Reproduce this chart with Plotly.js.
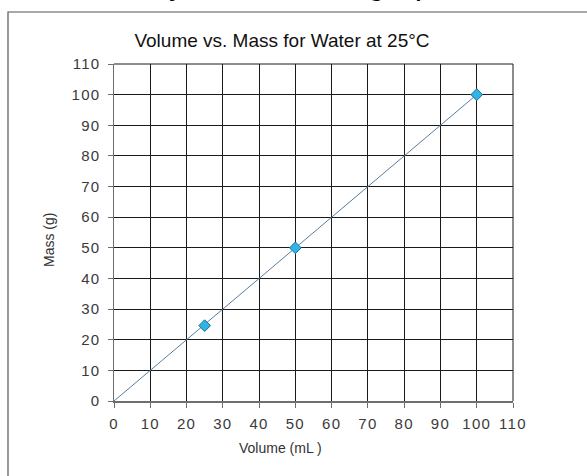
<!DOCTYPE html>
<html>
<head>
<meta charset="utf-8">
<script src="https://cdn.plot.ly/plotly-3.0.1.min.js"></script>
<style>
  html, body { margin: 0; padding: 0; background: #fff; }
  #chart { width: 587px; height: 476px; }
  .xtick text, .ytick text { letter-spacing: 1.3px; }
</style>
</head>
<body>
<div id="chart"></div>
<script>
// Data
const volume = [25, 50, 100];      // mL
const mass = [24.6, 50, 100];      // g
const trendVolume = [0, 100];
const trendMass = [0, 100];
const tickValues = [0, 10, 20, 30, 40, 50, 60, 70, 80, 90, 100, 110];
const tickLabels = ['0', '10', '20', '30', '40', '50', '60', '70', '80', '90', '100', '110'];

const W = 587, H = 476;
const L = 114, R = 74, T = 64, B = 75;
const pw = W - L - R, ph = H - T - B;
const px = x => (x - L) / pw;          // pixel -> paper x
const py = y => (H - B - y) / ph;      // pixel -> paper y

const traces = [
  {
    x: trendVolume, y: trendMass, type: 'scatter', mode: 'lines',
    line: { color: '#5a7d9c', width: 1 }, hoverinfo: 'skip', showlegend: false
  },
  {
    x: volume, y: mass, type: 'scatter', mode: 'markers',
    marker: { symbol: 'diamond', size: 9, color: '#2fb4e6', line: { color: '#1c6f9a', width: 1 } },
    showlegend: false
  }
];

const axisCommon = {
  range: [0, 110], tickvals: tickValues, ticktext: tickLabels,
  showgrid: true, gridcolor: '#1a1a1a', gridwidth: 1,
  showline: true, linecolor: '#6e6e6e', linewidth: 1.5, mirror: false,
  zeroline: false, ticks: 'outside', ticklen: 5, tickcolor: '#6e6e6e', tickwidth: 1,
  tickfont: { family: 'Liberation Sans, Arial, sans-serif', size: 15, color: '#3a3a3a' },
  fixedrange: true
};

const layout = {
  width: W, height: H,
  margin: { l: L, r: R, t: T, b: B, pad: 0 },
  paper_bgcolor: '#ffffff', plot_bgcolor: '#ffffff',
  title: {
    text: 'Volume vs. Mass for Water at 25°C',
    font: { family: 'Liberation Sans, Arial, sans-serif', size: 19, color: '#111' },
    xref: 'container', x: 282 / W, xanchor: 'center',
    yref: 'container', y: 1 - 40 / H, yanchor: 'middle'
  },
  xaxis: Object.assign({}, axisCommon, { ticklabelstandoff: 3 }),
  yaxis: Object.assign({}, axisCommon, { ticklabelstandoff: 4 }),
  showlegend: false,
  shapes: [
    { type: 'rect', xref: 'paper', yref: 'paper',
      x0: px(8), x1: px(620), y0: py(520), y1: py(12),
      line: { color: '#555', width: 1.2 }, fillcolor: 'rgba(0,0,0,0)', layer: 'below' },
    { type: 'line', xref: 'paper', yref: 'paper',
      x0: 1, x1: 1, y0: 0, y1: 1, line: { color: '#1a1a1a', width: 1 } },
    { type: 'line', xref: 'paper', yref: 'paper',
      x0: 0, x1: 1, y0: 1, y1: 1, line: { color: '#1a1a1a', width: 1 } }
  ],
  annotations: [
    { text: 'Analyze the data, graph', xref: 'paper', yref: 'paper',
      x: px(101), y: py(3), xanchor: 'left', yanchor: 'bottom', showarrow: false,
      font: { family: 'Liberation Sans, Arial, sans-serif', size: 33, color: '#000' } },
    { text: 'Volume (mL )', xref: 'paper', yref: 'paper',
      x: px(280), y: py(448), xanchor: 'center', yanchor: 'middle', showarrow: false,
      font: { family: 'Liberation Sans, Arial, sans-serif', size: 14, color: '#333' } },
    { text: 'Mass (g)', xref: 'paper', yref: 'paper', textangle: -90,
      x: px(49), y: py(240), xanchor: 'center', yanchor: 'middle', showarrow: false,
      font: { family: 'Liberation Sans, Arial, sans-serif', size: 14, color: '#333' } }
  ]
};

Plotly.newPlot('chart', traces, layout, { displayModeBar: false, staticPlot: true });
</script>
</body>
</html>
